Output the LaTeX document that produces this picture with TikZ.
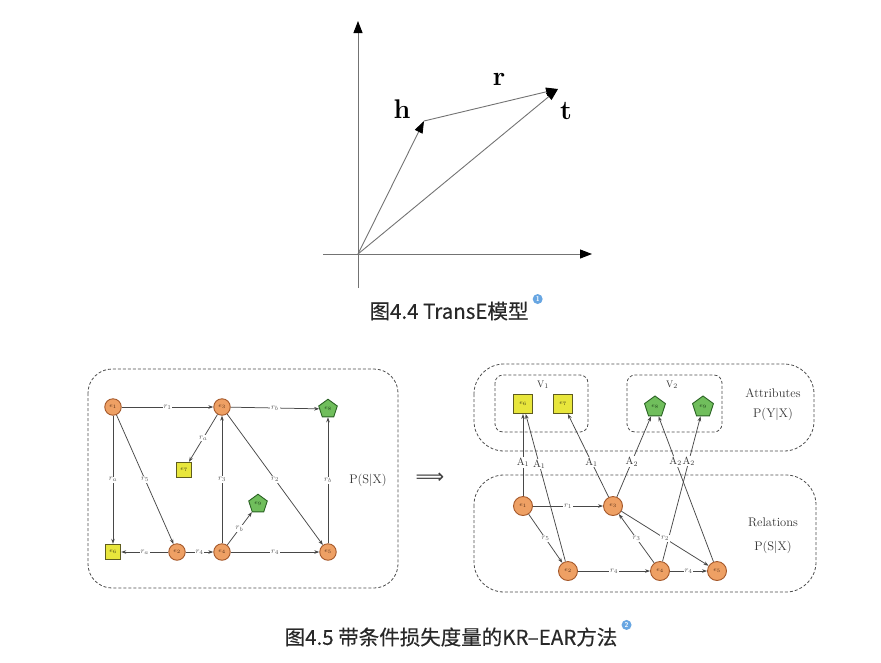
\documentclass[tikz,border=0pt]{standalone}
\usepackage{fontspec}
\newfontfamily\cjk[FakeBold=0.4]{Noto Sans CJK SC}
\newfontfamily\symfont{DejaVu Sans}
\usetikzlibrary{shapes.geometric,arrows.meta,positioning}
\definecolor{entfill}{RGB}{238,160,100}
\definecolor{entdraw}{RGB}{165,88,42}
\definecolor{sqfill}{RGB}{232,230,60}
\definecolor{sqdraw}{RGB}{95,92,30}
\definecolor{pentfill}{RGB}{112,190,92}
\definecolor{pentdraw}{RGB}{42,98,36}
\definecolor{edgegray}{RGB}{72,72,72}
\definecolor{capgray}{RGB}{40,40,40}
\definecolor{iconblue}{RGB}{104,166,226}
\tikzset{
ent/.style={circle,draw=entdraw,fill=entfill,line width=0.9pt,minimum size=16.5pt,inner sep=0pt,font=\fontsize{6}{6}\selectfont,text=entdraw!50!black},
attA/.style={rectangle,draw=sqdraw,fill=sqfill,line width=0.9pt,minimum size=15.5pt,inner sep=0pt,font=\fontsize{6}{6}\selectfont,text=sqdraw!60!black},
attB/.style={regular polygon,regular polygon sides=5,draw=pentdraw,fill=pentfill,line width=0.9pt,minimum size=19.5pt,inner sep=0pt,font=\fontsize{6}{6}\selectfont,text=pentdraw!60!black},
big/.style={minimum size=19pt},
bigpent/.style={minimum size=22pt},
rel/.style={-{Stealth[length=5pt,width=3.6pt]},edgegray,line width=0.75pt},
rlab/.style={fill=white,inner sep=0.8pt,font=\fontsize{8}{8}\selectfont,text=black!65},
alab/.style={fill=white,inner sep=0.6pt,font=\fontsize{10.5}{10.5}\selectfont,text=black!80},
dashbox/.style={draw=black!70,densely dashed,line width=0.8pt},
vec/.style={-{Triangle[length=12pt,width=8.5pt,color=black]},black!55,line width=0.9pt},
axisline/.style={-{Triangle[length=12pt,width=9pt,color=black]},black!55,line width=1pt},
vlab/.style={font=\fontsize{27}{27}\selectfont\bfseries},
plab/.style={font=\fontsize{12.5}{12.5}\selectfont,text=black!80},
setlab/.style={font=\fontsize{9.5}{9.5}\selectfont,text=black!80},
captext/.style={font=\cjk\fontsize{20.5}{20.5}\selectfont,text=capgray},
capicon/.style={circle,fill=iconblue,inner sep=0pt,minimum size=10pt,font=\sffamily\fontsize{7}{7}\selectfont\bfseries,text=white},
implsign/.style={font=\symfont\fontsize{20}{20}\selectfont,text=black!75,inner sep=0pt}
}
\begin{document}
\begin{tikzpicture}[x=1pt,y=-1pt]
\useasboundingbox (0,0) rectangle (881,662);
\coordinate (o) at (358,254);
\coordinate (xs) at (323,254);
\coordinate (xe) at (592,254);
\coordinate (ys) at (358,288);
\coordinate (ye) at (358,21);
\coordinate (h) at (424,121);
\coordinate (t) at (558,89);
\draw[axisline] (xs) -- (xe);
\draw[axisline] (ys) -- (ye);
\draw[vec] (o) -- (h);
\draw[vec] (o) -- (t);
\draw[vec] (h) -- (t);
\node[vlab] (hname) at (402,109) {h};
\node[vlab] (rname) at (499,79) {r};
\node[vlab] (tname) at (566,111) {t};
\node[captext] (cap1) at (449,311) {图4.4 TransE模型};
\node[capicon,anchor=west] (ic1) at ([xshift=0.5pt,yshift=-1pt]cap1.north east) {1};

\draw[dashbox,rounded corners=24] (88,369) rectangle (398,588);
\node[ent] (le1) at (113,407) {$e_1$};
\node[ent] (le3) at (222,407) {$e_3$};
\node[attB] (le8) at (328,409) {$e_8$};
\node[attA] (le7) at (184,470) {$e_7$};
\node[attA] (le6) at (113,552) {$e_6$};
\node[ent] (le2) at (177,552) {$e_2$};
\node[ent] (le4) at (222,552) {$e_4$};
\node[attB] (le9) at (258,504) {$e_9$};
\node[ent] (le5) at (328,552) {$e_5$};
\draw[rel] (le1) -- node[rlab]{$r_1$} (le3);
\draw[rel] (le3) -- node[rlab]{$r_b$} (le8);
\draw[rel] (le3) -- node[rlab]{$r_a$} (le7);
\draw[rel] (le1) -- node[rlab]{$r_a$} (le6);
\draw[rel] (le1) -- node[rlab]{$r_5$} (le2);
\draw[rel] (le4) -- node[rlab]{$r_3$} (le3);
\draw[rel] (le3) -- node[rlab]{$r_2$} (le5);
\draw[rel] (le5) -- node[rlab]{$r_b$} (le8);
\draw[rel] (le4) -- node[rlab]{$r_b$} (le9);
\draw[rel] (le2) -- node[rlab]{$r_a$} (le6);
\draw[rel] (le2) -- node[rlab]{$r_4$} (le4);
\draw[rel] (le4) -- node[rlab]{$r_4$} (le5);
\node[plab] (psx) at (368,480) {P(S|X)};
\node[implsign] (impl) at (430,478) {⟹};

\draw[dashbox,rounded corners=30] (474,364) rectangle (814,451);
\draw[dashbox,rounded corners=30] (474,475) rectangle (816,592);
\draw[dashbox,rounded corners=8] (495,375) rectangle (588,432);
\draw[dashbox,rounded corners=8] (627,375) rectangle (722,432);
\node[setlab] (v1) at (543,385) {V$_1$};
\node[setlab] (v2) at (672,385) {V$_2$};
\node[attA,big] (re6) at (523,404) {$e_6$};
\node[attA,big] (re7) at (563,404) {$e_7$};
\node[attB,bigpent] (re8) at (655,407) {$e_8$};
\node[attB,bigpent] (re9) at (703,407) {$e_9$};
\node[plab] (attr) at (773,393) {Attributes};
\node[plab] (pyx) at (773,414) {P(Y|X)};
\node[ent,big] (re1) at (523,506) {$e_1$};
\node[ent,big] (re3) at (613,506) {$e_3$};
\node[ent,big] (re2) at (568,571) {$e_2$};
\node[ent,big] (re4) at (660,571) {$e_4$};
\node[ent,big] (re5) at (717,571) {$e_5$};
\node[plab] (rels) at (773,522) {Relations};
\node[plab] (psx2) at (773,547) {P(S|X)};
\draw[rel] (re1) -- node[alab,pos=0.41]{A$_1$} (re6);
\draw[rel] (re2) -- node[alab,pos=0.66]{A$_1$} (re6);
\draw[rel] (re3) -- node[alab,pos=0.42]{A$_1$} (re7);
\draw[rel] (re3) -- node[alab,pos=0.44]{A$_2$} (re8);
\draw[rel] (re5) -- node[alab,pos=0.69]{A$_2$} (re8);
\draw[rel] (re4) -- node[alab,pos=0.69]{A$_2$} (re9);
\draw[rel] (re1) -- node[rlab]{$r_1$} (re3);
\draw[rel] (re1) -- node[rlab]{$r_5$} (re2);
\draw[rel] (re4) -- node[rlab]{$r_3$} (re3);
\draw[rel] (re3) -- node[rlab]{$r_2$} (re5);
\draw[rel] (re2) -- node[rlab]{$r_4$} (re4);
\draw[rel] (re4) -- node[rlab]{$r_4$} (re5);
\node[captext] (cap2) at (451,637) {图4.5 带条件损失度量的KR–EAR方法};
\node[capicon,anchor=west] (ic2) at ([xshift=0.5pt,yshift=-1pt]cap2.north east) {2};
\end{tikzpicture}
\end{document}
